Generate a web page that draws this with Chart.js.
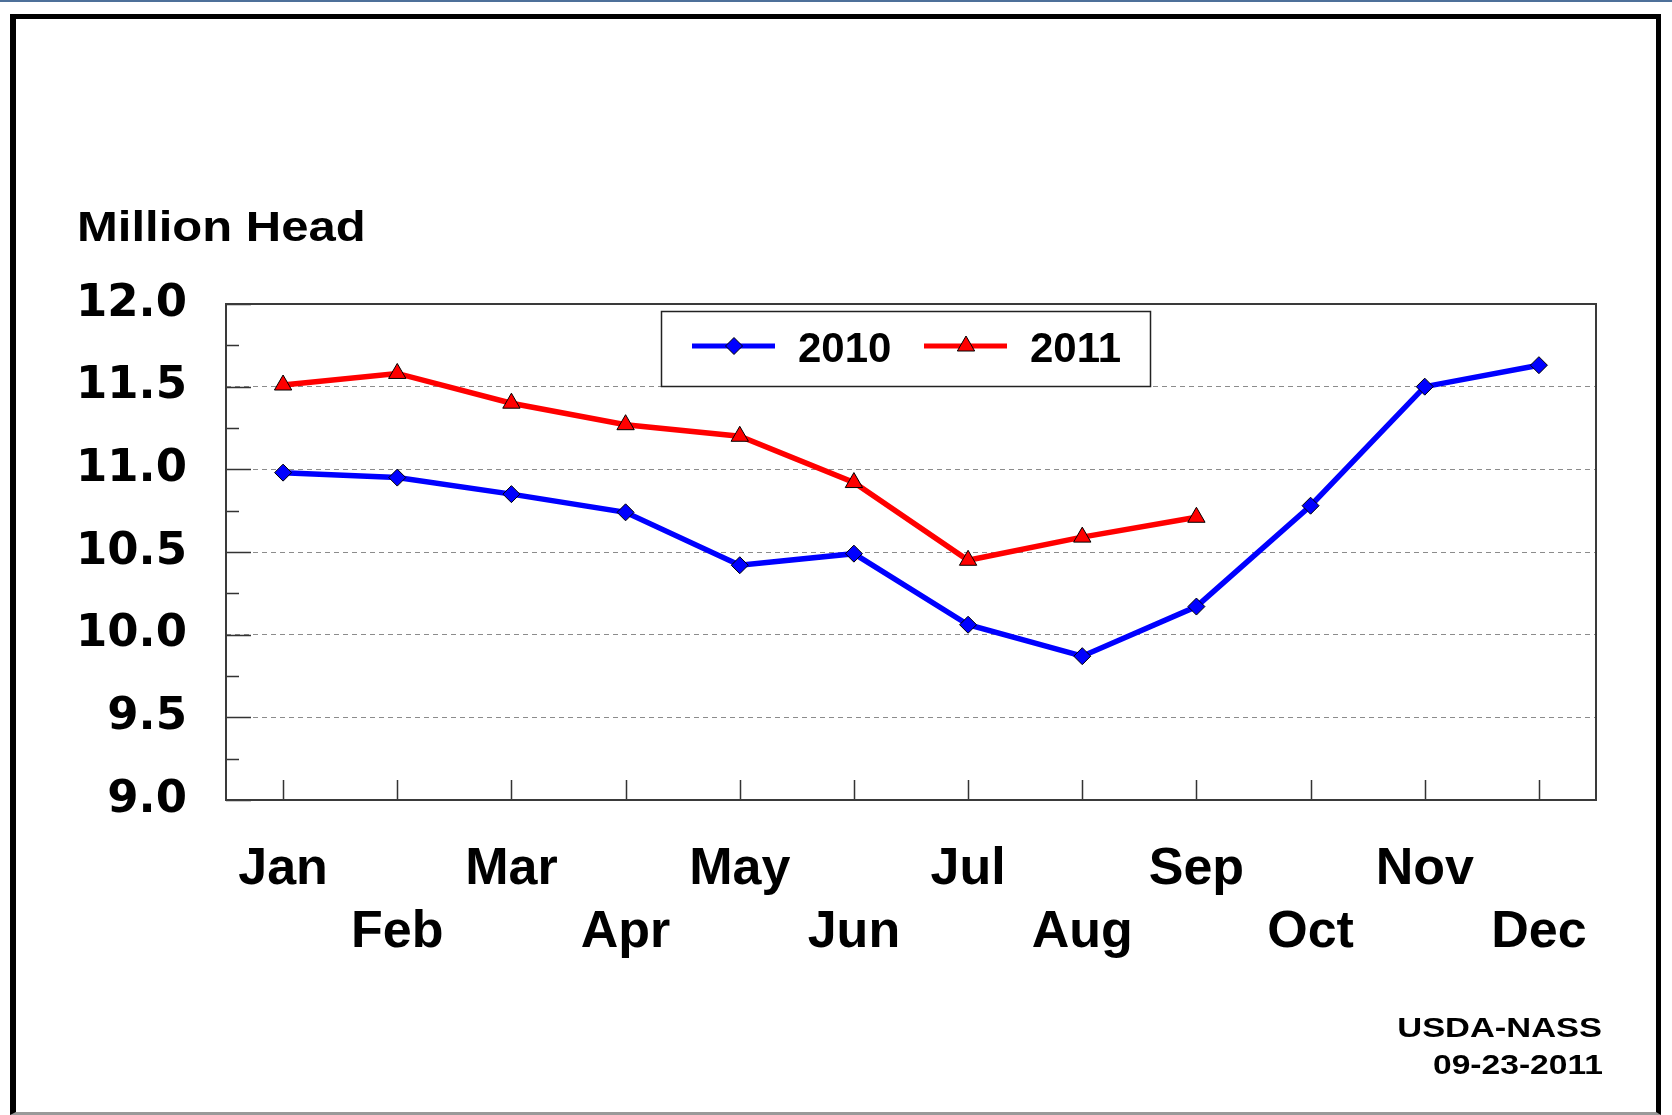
<!DOCTYPE html>
<html>
<head>
<meta charset="utf-8">
<title>Million Head</title>
<script src="https://cdn.jsdelivr.net/npm/chart.js@4.4.0/dist/chart.umd.min.js"></script>
<style>
  html, body { margin: 0; padding: 0; background: #fff; overflow: hidden; }
  .top-line { position: absolute; left: 0; top: 0; width: 1672px; height: 2px; background: #4d7099; }
  .frame {
    position: absolute; left: 10px; top: 14px; width: 1640px; height: 1093px;
    border: 5px solid #000; border-left-width: 6px; border-bottom: 3px solid #999;
    pointer-events: none;
  }
  #chart { position: absolute; left: 0; top: 0; }
</style>
</head>
<body>
<div class="top-line"></div>
<canvas id="chart" width="1672" height="1115"></canvas>
<div class="frame"></div>
<script>
  // 月別の頭数（百万頭）
  const months = ["Jan", "Feb", "Mar", "Apr", "May", "Jun", "Jul", "Aug", "Sep", "Oct", "Nov", "Dec"];
  const head2010 = [10.98, 10.95, 10.85, 10.74, 10.42, 10.49, 10.06, 9.87, 10.17, 10.78, 11.50, 11.63];
  const head2011 = [11.51, 11.58, 11.40, 11.27, 11.20, 10.92, 10.45, 10.59, 10.71, null, null, null];
  const yTickValues = [9.0, 9.5, 10.0, 10.5, 11.0, 11.5, 12.0];
  const unitLabel = "Million Head";
  const sourceLines = ["USDA-NASS", "09-23-2011"];

  const SANS = '"Liberation Sans", Arial, sans-serif';

  // 横に引き伸ばしたテキスト（元画像のフォントに合わせる）
  const stretchedText = (ctx, text, x, y, size, stretch, align) => {
    ctx.save();
    ctx.font = `bold ${size}px ${SANS}`;
    ctx.fillStyle = "#000";
    ctx.textBaseline = "alphabetic";
    const w = ctx.measureText(text).width * stretch;
    const left = align === "right" ? x - w : x;
    ctx.translate(left, y);
    ctx.scale(stretch, 1);
    ctx.textAlign = "left";
    ctx.fillText(text, 0, 0);
    ctx.restore();
  };

  const drawMarker = (ctx, style, cx, cy, r, fill) => {
    ctx.beginPath();
    if (style === "triangle") {
      ctx.moveTo(cx, cy - r);
      ctx.lineTo(cx + r * Math.sin(Math.PI / 3), cy + r / 2);
      ctx.lineTo(cx - r * Math.sin(Math.PI / 3), cy + r / 2);
    } else {
      ctx.moveTo(cx, cy - r);
      ctx.lineTo(cx + r, cy);
      ctx.lineTo(cx, cy + r);
      ctx.lineTo(cx - r, cy);
    }
    ctx.closePath();
    ctx.fillStyle = fill;
    ctx.fill();
    ctx.lineWidth = 1;
    ctx.strokeStyle = "#000";
    ctx.stroke();
  };

  const decorPlugin = {
    id: "decor",
    beforeDatasetsDraw(chart) {
      const { ctx, chartArea: area, scales } = chart;
      const x = scales.x;
      const y = scales.y;
      ctx.save();
      ctx.strokeStyle = "#333";
      ctx.lineWidth = 1.5;
      ctx.beginPath();
      // 内向きの目盛り（0.5刻みは長く、0.25刻みは短く）
      for (let v = y.min; v <= y.max + 1e-9; v += 0.25) {
        const py = Math.round(y.getPixelForValue(v)) + 0.5;
        const major = Math.abs(v * 2 - Math.round(v * 2)) < 1e-9;
        ctx.moveTo(area.left, py);
        ctx.lineTo(area.left + (major ? 25 : 13), py);
      }
      x.ticks.forEach((t, i) => {
        const px = Math.round(x.getPixelForTick(i)) + 0.5;
        ctx.moveTo(px, area.bottom);
        ctx.lineTo(px, area.bottom - 20);
      });
      ctx.stroke();
      ctx.restore();
    },
    afterDatasetsDraw(chart) {
      const { ctx, chartArea: area } = chart;
      ctx.save();
      ctx.strokeStyle = "#3a3a3a";
      ctx.lineWidth = 2;
      ctx.strokeRect(area.left, area.top, area.right - area.left, area.bottom - area.top);

      // 凡例（枠付き）
      const box = { left: 661, top: 311, right: 1150, bottom: 386 };
      ctx.fillStyle = "#fff";
      ctx.fillRect(box.left, box.top, box.right - box.left, box.bottom - box.top);
      ctx.lineWidth = 1.5;
      ctx.strokeStyle = "#222";
      ctx.strokeRect(box.left + 0.5, box.top + 0.5, box.right - box.left, box.bottom - box.top);

      const items = [{ x: 692, textX: 798 }, { x: 924, textX: 1030 }];
      const lineY = 346;
      chart.data.datasets.forEach((ds, i) => {
        const it = items[i];
        ctx.beginPath();
        ctx.lineWidth = 5;
        ctx.strokeStyle = ds.borderColor;
        ctx.moveTo(it.x, lineY);
        ctx.lineTo(it.x + 83, lineY);
        ctx.stroke();
        drawMarker(ctx, ds.pointStyle, it.x + 42, lineY, ds.pointRadius, ds.pointBackgroundColor);
        ctx.font = `bold 42px ${SANS}`;
        ctx.fillStyle = "#000";
        ctx.textBaseline = "middle";
        ctx.textAlign = "left";
        ctx.fillText(ds.label, it.textX, lineY + 4);
      });
      ctx.restore();
    },
    afterDraw(chart) {
      const { ctx } = chart;
      stretchedText(ctx, unitLabel, 77, 241, 43, 1.14, "left");
      stretchedText(ctx, sourceLines[0], 1602, 1037, 28, 1.23, "right");
      stretchedText(ctx, sourceLines[1], 1603, 1074, 28, 1.2, "right");
    },
  };

  new Chart(document.getElementById("chart"), {
    type: "line",
    data: {
      labels: months,
      datasets: [
        {
          label: "2010",
          data: head2010,
          borderColor: "#0000ff",
          borderWidth: 5.5,
          pointStyle: "rectRot",
          pointRadius: 8.5,
          pointBackgroundColor: "#0000ff",
          pointBorderColor: "#000",
          pointBorderWidth: 1,
          tension: 0,
        },
        {
          label: "2011",
          data: head2011,
          borderColor: "#ff0000",
          borderWidth: 5.5,
          pointStyle: "triangle",
          pointRadius: 10,
          pointBackgroundColor: "#ff0000",
          pointBorderColor: "#000",
          pointBorderWidth: 1,
          tension: 0,
        },
      ],
    },
    options: {
      responsive: false,
      animation: false,
      devicePixelRatio: 1,
      layout: { padding: { top: 304, right: 76, bottom: 155, left: 0 } },
      plugins: {
        legend: { display: false },
        tooltip: { enabled: false },
      },
      scales: {
        x: {
          offset: true,
          grid: { display: false, drawTicks: false },
          border: { display: false },
          ticks: {
            autoSkip: false,
            maxRotation: 0,
            padding: 38,
            color: "#000",
            font: { family: SANS, size: 52, weight: "bold", lineHeight: 1.21 },
            // 奇数月は上段、偶数月は下段
            callback: (value, index) => (index % 2 === 0 ? [months[index]] : ["", months[index]]),
          },
          afterFit: (scale) => {
            scale.height = 160;
          },
        },
        y: {
          min: yTickValues[0],
          max: yTickValues[yTickValues.length - 1],
          afterBuildTicks: (scale) => {
            scale.ticks = yTickValues.map((v) => ({ value: v }));
          },
          afterFit: (scale) => {
            scale.width = 226;
          },
          grid: {
            drawTicks: false,
            lineWidth: 1,
            color: (c) => (c.tick && (c.tick.value === yTickValues[0] || c.tick.value === yTickValues[yTickValues.length - 1]) ? "rgba(0,0,0,0)" : "#8c8c8c"),
          },
          border: { display: false, dash: [5, 4] },
          ticks: {
            padding: 39,
            color: "#000",
            font: { family: '"DejaVu Sans", sans-serif', size: 45, weight: "bold" },
            callback: (value) => Number(value).toFixed(1),
          },
        },
      },
    },
    plugins: [decorPlugin],
  });
</script>
</body>
</html>
